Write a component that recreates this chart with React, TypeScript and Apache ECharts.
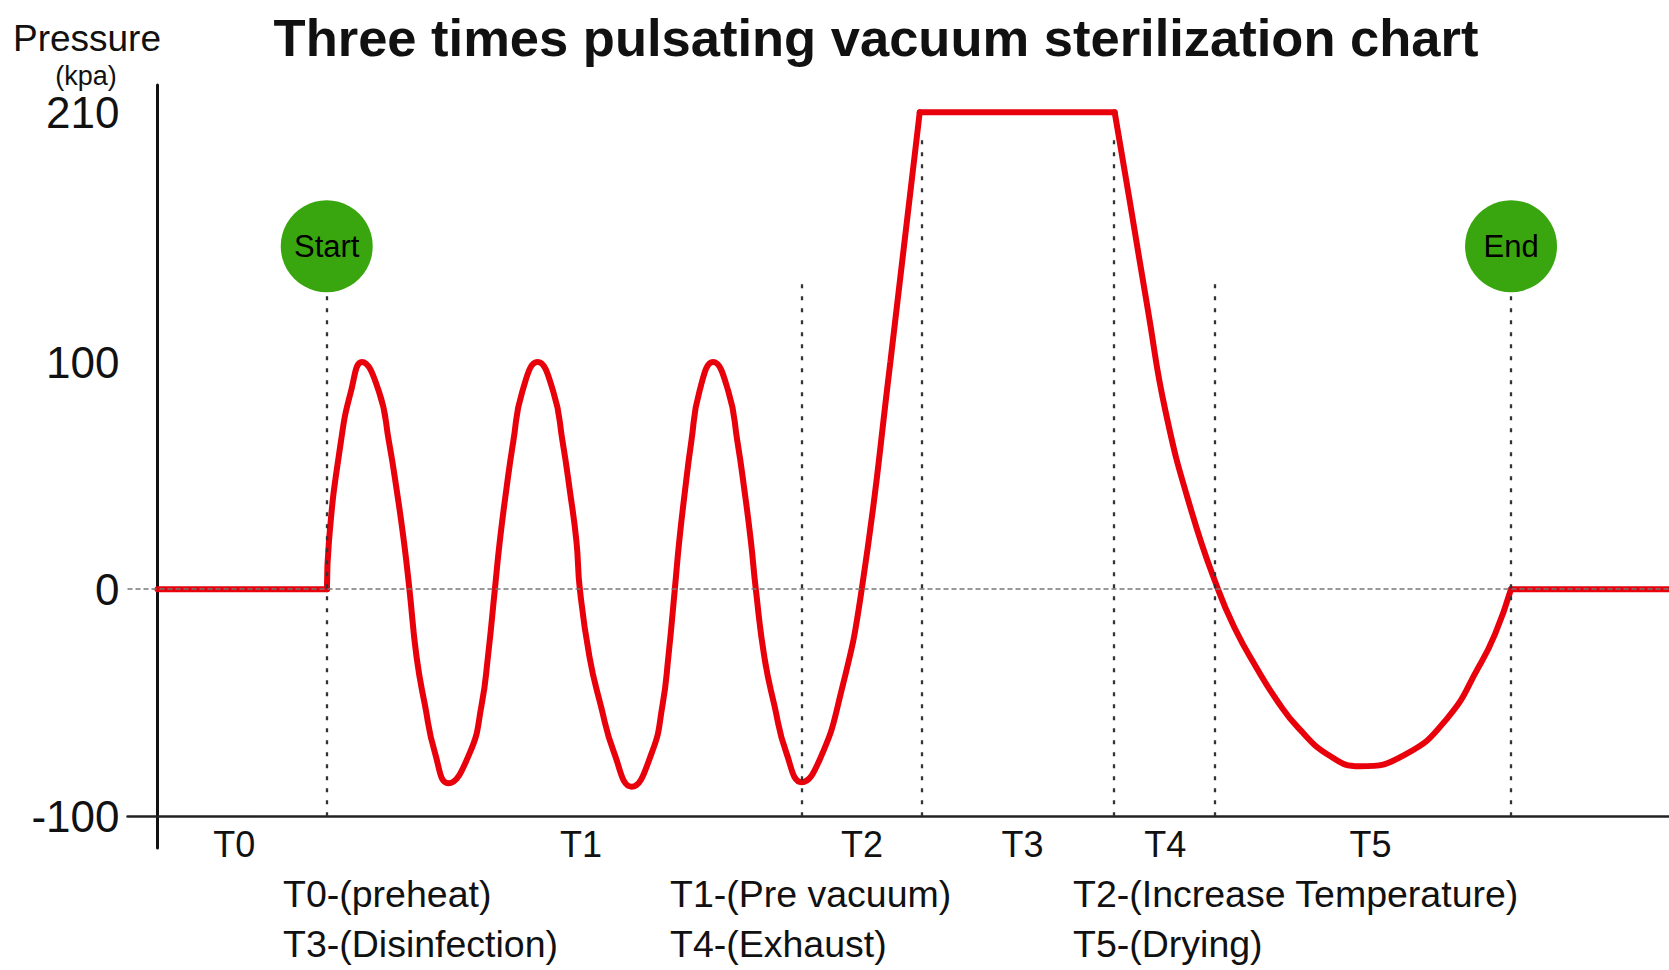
import React, { useEffect, useRef } from "react";
import * as echarts from "echarts";

// ---- data (time units along x, pressure in kPa along y) ----
const X_LABELS = ["T0", "T1", "T2", "T3", "T4", "T5"];
const X_LABEL_POS = [7.67, 42.37, 70.47, 86.54, 100.8, 121.35];
const Y_TICKS = [-100, 0, 100, 210];

const PRE_FLAT = [
  [0, 0],
  [16.95, 0],
];
const PULSE_CURVE = [
  [16.95, 0], [17.15, 21], [18.35, 65], [19.35, 87], [20.45, 100],
  [22.15, 87], [23.15, 65], [23.95, 43], [24.65, 21], [25.2, 0],
  [25.92, -30], [26.75, -51], [27.75, -72], [29.08, -85.5],
  [31.25, -72], [32.42, -51], [33.05, -30], [33.75, 0],
  [34.24, 21], [34.87, 43], [35.59, 65], [36.49, 87], [38.02, 100],
  [39.59, 87], [40.52, 65], [41.26, 43], [41.91, 21], [42.25, 0],
  [43.22, -30], [44.33, -51], [45.67, -72], [47.42, -87],
  [49.45, -72], [50.52, -51], [51.1, -30], [51.75, 0],
  [52.19, 21], [52.76, 43], [53.4, 65], [54.21, 87], [55.58, 100],
  [57.11, 87], [58.01, 65], [58.73, 43], [59.36, 21], [59.85, 0],
  [60.71, -30], [61.7, -51], [62.9, -72], [64.45, -85],
  [66.25, -75], [68.35, -46], [70.45, 0], [73.31, 100], [76.25, 210],
];
const PLATEAU = [
  [76.25, 210],
  [95.75, 210],
];
const DRYING_CURVE = [
  [95.75, 210], [97.29, 170], [99.07, 123], [100.85, 78], [103.42, 34.5],
  [106.08, 0], [107.85, -18], [109.85, -34], [111.95, -48.8], [114.1, -61],
  [117.3, -73.5], [120.28, -78], [124.75, -73], [129.0, -57],
  [132.2, -34], [133.8, -19.8], [135.4, 0],
];
const POST_FLAT = [
  [135.4, 0],
  [151.2, 0],
];
const STAGE_X = [16.93, 64.45, 76.42, 95.7, 105.75, 135.4];
const STAGE_TOP = [130, 137, 198, 198, 137, 130];
const MARKER_NAMES = ["Start", "End"];
const MARKER_T = [16.93, 135.4];
const MARKER_V = [151, 151];
const LEGEND_ROWS = [
  ["T0-(preheat)", "T1-(Pre vacuum)", "T2-(Increase Temperature)"],
  ["T3-(Disinfection)", "T4-(Exhaust)", "T5-(Drying)"],
];

const FONT = "'Liberation Sans', Arial, Helvetica, sans-serif";
const RED = "#e8000b";
const GREEN = "#3aa60f";

export default function App() {
  const ref = useRef<HTMLDivElement>(null);

  useEffect(() => {
    if (!ref.current) return;
    const chart = echarts.init(ref.current, undefined, { renderer: "svg" });

    const redLine = (data: number[][], smooth: boolean | number) => ({
      type: "line",
      data,
      smooth,
      symbol: "none",
      showSymbol: false,
      silent: true,
      z: 3,
      lineStyle: { color: RED, width: 6, cap: "round", join: "round" },
    });

    const legendCols = [283, 670, 1073];
    const legendRowsY = [894, 944];
    const legendTexts: any[] = [];
    LEGEND_ROWS.forEach((row, r) =>
      row.forEach((txt, c) =>
        legendTexts.push({
          type: "text",
          x: legendCols[c],
          y: legendRowsY[r],
          style: {
            text: txt,
            font: `37.5px ${FONT}`,
            fill: "#111",
            textAlign: "left",
            textVerticalAlign: "middle",
          },
        })
      )
    );

    chart.setOption({
      animation: false,
      backgroundColor: "#ffffff",
      grid: { left: 127.5, right: 0, top: 85, bottom: 122, containLabel: false },
      xAxis: {
        type: "value",
        min: -3,
        max: 151.2,
        offset: -32,
        axisLine: { show: true, onZero: false, lineStyle: { color: "#222", width: 2.5 } },
        axisTick: { show: false },
        splitLine: { show: false },
        axisLabel: {
          show: true,
          customValues: X_LABEL_POS,
          margin: 10,
          fontSize: 36,
          fontFamily: FONT,
          color: "#111",
          formatter: (v: number) => {
            const i = X_LABEL_POS.findIndex((p) => Math.abs(p - v) < 0.01);
            return i >= 0 ? X_LABELS[i] : "";
          },
        },
      },
      yAxis: {
        type: "value",
        min: -114,
        max: 222,
        axisLine: { show: true, onZero: true, lineStyle: { color: "#111", width: 3 } },
        axisTick: { show: false },
        splitLine: { show: false },
        axisLabel: {
          show: true,
          customValues: Y_TICKS,
          margin: 8,
          fontSize: 44,
          fontFamily: FONT,
          color: "#111",
        },
      },
      series: [
        {
          type: "line",
          data: PRE_FLAT,
          symbol: "none",
          silent: true,
          z: 1,
          lineStyle: { opacity: 0 },
          markLine: {
            silent: true,
            symbol: ["none", "none"],
            label: { show: false },
            data: [
              {
                yAxis: 0,
                lineStyle: { color: "#777", width: 1.6, type: [5, 3] },
              },
              ...STAGE_X.map((t, i) => [
                { coord: [t, -100], lineStyle: { color: "#333", width: 2.3, type: [4, 8] } },
                { coord: [t, STAGE_TOP[i]] },
              ]),
            ],
          },
        },
        redLine(PRE_FLAT, false),
        redLine(PULSE_CURVE, 0.5),
        redLine(PLATEAU, false),
        redLine(DRYING_CURVE, 0.5),
        redLine(POST_FLAT, false),
        {
          type: "scatter",
          silent: true,
          z: 4,
          symbolSize: 92,
          itemStyle: { color: GREEN, opacity: 1 },
          data: MARKER_NAMES.map((n, i) => ({ name: n, value: [MARKER_T[i], MARKER_V[i]] })),
          label: {
            show: true,
            position: "inside",
            formatter: "{b}",
            color: "#000",
            fontSize: 31,
            fontFamily: FONT,
          },
        },
      ],
      graphic: [
        {
          type: "text",
          x: 876,
          y: 37,
          style: {
            text: "Three times pulsating vacuum sterilization chart",
            font: `bold 52.5px ${FONT}`,
            fill: "#111",
            textAlign: "center",
            textVerticalAlign: "middle",
          },
        },
        {
          type: "text",
          x: 87,
          y: 38,
          style: {
            text: "Pressure",
            font: `37px ${FONT}`,
            fill: "#111",
            textAlign: "center",
            textVerticalAlign: "middle",
          },
        },
        {
          type: "text",
          x: 86,
          y: 76,
          style: {
            text: "(kpa)",
            font: `27px ${FONT}`,
            fill: "#111",
            textAlign: "center",
            textVerticalAlign: "middle",
          },
        },
        ...legendTexts,
      ],
    });

    return () => chart.dispose();
  }, []);

  return (
    <div
      ref={ref}
      style={{ position: "fixed", left: 0, top: 0, width: 1669, height: 970, background: "#fff" }}
    />
  );
}
